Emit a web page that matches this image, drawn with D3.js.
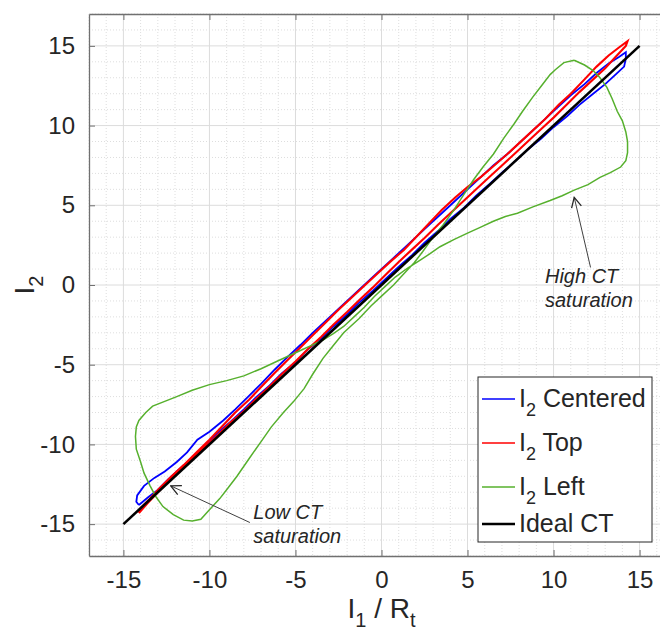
<!DOCTYPE html>
<meta charset="utf-8">
<script src="https://d3js.org/d3.v7.min.js"></script>
<style>
  body { margin: 0; background: #fff; }
  text { font-family: "Liberation Sans", Arial, sans-serif; fill: #262626; }
</style>
<div id="my_dataviz"></div>
<script>

  // values, [I1/Rt, I2]
  var centeredData = [
    [-14.1,-13.8],[-13.6,-13.35],[-13.0,-12.85],[-12.4,-12.2],[-11.8,-11.6],[-11.0,-10.85],[-10.2,-10.0],[-9.5,-9.25],
    [-8.8,-8.6],[-8.0,-7.8],[-7.3,-7.05],[-6.5,-6.3],[-5.8,-5.55],[-5.0,-4.85],[-4.3,-4.05],[-3.5,-3.35],[-2.8,-2.6],
    [-2.0,-1.85],[-1.3,-1.1],[-0.5,-0.35],[0.3,0.45],[1.0,1.15],[1.8,1.9],[2.5,2.65],[3.3,3.4],[4.0,4.15],[4.8,4.85],
    [5.5,5.6],[6.3,6.35],[7.0,7.05],[7.8,7.8],[8.5,8.5],[9.3,9.2],[10.0,9.9],[10.8,10.6],[11.5,11.3],[12.3,12.0],
    [13.0,12.6],[13.6,13.2],[14.1,13.7],[14.2,14.2],
    [14.2,14.6],[13.8,14.3],[13.2,13.9],[12.5,13.3],[11.8,12.6],[11.0,11.9],[10.3,11.2],[9.5,10.4],[8.8,9.7],[8.0,8.9],
    [7.3,8.2],[6.5,7.5],[5.8,6.8],[5.0,6.0],[4.3,5.3],[3.5,4.5],[2.8,3.8],[2.0,3.0],[1.3,2.3],[0.5,1.5],[-0.2,0.8],
    [-1.0,0.0],[-1.7,-0.7],[-2.5,-1.5],[-3.2,-2.2],[-4.0,-3.0],[-4.7,-3.75],[-5.5,-4.55],[-6.2,-5.3],[-7.0,-6.2],
    [-7.7,-6.95],[-8.5,-7.8],[-9.2,-8.5],[-10.0,-9.2],[-10.7,-9.7],[-11.3,-10.5],[-11.9,-11.1],[-12.6,-11.7],
    [-13.2,-12.1],[-13.8,-12.6],[-14.2,-13.2],[-14.25,-13.6],[-14.1,-13.8]
  ];

  var topData = [
    [-14.1,-14.3],[-13.6,-13.7],[-13.0,-13.0],[-12.4,-12.35],[-11.8,-11.7],[-11.0,-10.95],[-10.3,-10.2],[-9.5,-9.4],
    [-8.8,-8.65],[-8.0,-7.9],[-7.3,-7.15],[-6.5,-6.35],[-5.8,-5.6],[-5.0,-4.8],[-4.3,-4.05],[-3.5,-3.25],[-2.8,-2.5],
    [-2.0,-1.7],[-1.3,-0.95],[-0.5,-0.15],[0.3,0.7],[1.0,1.45],[1.8,2.25],[2.5,2.95],[3.3,3.8],[4.0,4.5],[4.8,5.3],
    [5.5,6.0],[6.3,6.8],[7.0,7.5],[7.8,8.3],[8.5,9.0],[9.3,9.8],[10.0,10.5],[10.8,11.35],[11.5,12.1],[12.3,12.9],
    [13.0,13.6],[13.6,14.3],[14.2,15.0],
    [14.3,15.3],[13.8,14.9],[13.2,14.4],[12.5,13.7],[11.8,12.9],[11.0,12.0],[10.3,11.3],[9.5,10.4],[8.8,9.7],[8.0,8.9],
    [7.3,8.2],[6.5,7.45],[5.8,6.8],[5.0,6.15],[4.3,5.5],[3.5,4.7],[2.8,3.9],[2.0,3.0],[1.3,2.2],[0.5,1.45],[-0.2,0.75],
    [-1.0,-0.05],[-1.7,-0.75],[-2.5,-1.55],[-3.2,-2.3],[-4.0,-3.15],[-4.7,-3.9],[-5.5,-4.75],[-6.2,-5.5],[-7.0,-6.4],
    [-7.7,-7.2],[-8.5,-8.0],[-9.2,-8.8],[-10.0,-9.7],[-10.7,-10.45],[-11.5,-11.3],[-12.2,-12.0],[-12.9,-12.75],
    [-13.5,-13.45],[-14.0,-14.0],[-14.1,-14.3]
  ];

  var leftData = [
    [11.2,14.1],[10.6,13.95],[10.1,13.5],[9.8,13.2],[9.3,12.5],[8.8,11.8],[8.2,10.9],[7.7,10.1],[7.1,9.2],[6.5,8.2],
    [5.9,7.4],[5.35,6.6],[4.8,5.7],[4.2,4.7],[3.6,3.8],[3.0,3.0],[2.4,2.1],[1.9,1.4],[1.3,0.7],[0.7,0.0],[0.0,-0.7],
    [-0.6,-1.3],[-1.3,-2.1],[-2.2,-3.0],[-2.8,-3.8],[-3.4,-4.6],[-4.0,-5.6],[-4.5,-6.5],[-5.1,-7.3],[-5.7,-8.0],
    [-6.4,-8.9],[-7.05,-9.9],[-7.7,-10.9],[-8.4,-12.0],[-8.9,-12.7],[-9.4,-13.4],[-10.0,-14.1],[-10.5,-14.7],
    [-11.0,-14.8],[-11.5,-14.75],[-12.1,-14.4],[-12.7,-13.9],[-13.1,-13.3],[-13.45,-12.6],[-13.8,-11.8],[-14.0,-11.1],
    [-14.25,-10.3],[-14.3,-9.5],[-14.25,-8.9],[-14.1,-8.5],[-13.7,-8.0],[-13.3,-7.6],[-12.6,-7.3],[-11.9,-7.0],
    [-11.0,-6.6],[-10.0,-6.25],[-9.0,-6.0],[-8.0,-5.7],[-7.0,-5.25],[-6.1,-4.8],[-4.9,-4.2],[-4.1,-3.8],[-3.4,-3.45],
    [-2.8,-3.05],[-2.2,-2.6],[-1.6,-2.0],[-1.0,-1.4],[-0.4,-0.7],[0.2,-0.1],[0.8,0.5],[1.5,1.05],[2.25,1.56],
    [2.8,1.95],[3.4,2.4],[4.2,2.85],[5.0,3.25],[5.8,3.65],[6.5,4.0],[7.2,4.3],[7.9,4.5],[8.8,4.9],[9.8,5.3],
    [10.5,5.6],[11.2,5.95],[12.0,6.3],[12.7,6.75],[13.3,7.05],[13.9,7.4],[14.2,7.8],[14.3,8.3],[14.3,9.0],[14.2,9.6],
    [14.0,10.3],[13.7,10.9],[13.4,11.7],[13.1,12.4],[12.7,13.0],[12.3,13.45],[11.8,13.8],[11.2,14.1]
  ];

  var idealData = [[-15,-15],[15,15]];

  var tickValues = [-15, -10, -5, 0, 5, 10, 15];
  var legendNames = ["Centered", "Top", "Left", "Ideal CT"];
  var legendColors = ["#0000ff", "#ff0000", "#56b02d", "#000000"];

  // annotation anchors in data units
  var highArrow = {from: [12.15, 1.1], to: [11.2, 5.5], text: [9.5, 0.12]};
  var lowArrow = {from: [-7.65, -14.9], to: [-12.25, -12.6], text: [-7.45, -14.7]};

  // set the dimensions and margins of the graph
  var margin = {top: 14, left: 89},
      width = 585,
      height = 542;

  var svg = d3.select("#my_dataviz")
    .append("svg")
      .attr("width", 660)
      .attr("height", 639)
    .append("g")
      .attr("transform", "translate(" + margin.left + "," + margin.top + ")");

  var x = d3.scaleLinear().domain([-17, 17]).range([0, width]);
  var y = d3.scaleLinear().domain([-17, 17]).range([height, 0]);

  // minor grid (dotted)
  var minor = d3.range(-17, 18).filter(function(v) { return v % 5 != 0; });
  svg.append("g").selectAll("line.mx")
    .data(minor).enter().append("line")
      .attr("x1", function(d) { return x(d); }).attr("x2", function(d) { return x(d); })
      .attr("y1", 0).attr("y2", height)
      .style("stroke", "#dedede").style("stroke-dasharray", "1,2");
  svg.append("g").selectAll("line.my")
    .data(minor).enter().append("line")
      .attr("y1", function(d) { return y(d); }).attr("y2", function(d) { return y(d); })
      .attr("x1", 0).attr("x2", width)
      .style("stroke", "#dedede").style("stroke-dasharray", "1,2");

  // major grid
  svg.append("g").selectAll("line")
    .data(tickValues).enter().append("line")
      .attr("x1", function(d) { return x(d); }).attr("x2", function(d) { return x(d); })
      .attr("y1", 0).attr("y2", height)
      .style("stroke", "#dcdcdc");
  svg.append("g").selectAll("line")
    .data(tickValues).enter().append("line")
      .attr("y1", function(d) { return y(d); }).attr("y2", function(d) { return y(d); })
      .attr("x1", 0).attr("x2", width)
      .style("stroke", "#dcdcdc");

  // axes (plain hyphen for negatives, like the original)
  var fmt = function(d) { return String(d); };
  var xAxis = svg.append("g")
      .attr("transform", "translate(0," + height + ")")
      .call(d3.axisBottom(x).tickValues(tickValues).tickFormat(fmt).tickSizeInner(-6).tickSizeOuter(0).tickPadding(15));
  var xTop = svg.append("g")
      .call(d3.axisTop(x).tickValues(tickValues).tickSizeInner(-6).tickSizeOuter(0).tickFormat(""));
  var yAxis = svg.append("g")
      .call(d3.axisLeft(y).tickValues(tickValues).tickFormat(fmt).tickSizeInner(-6).tickSizeOuter(0).tickPadding(14));
  var yRight = svg.append("g")
      .attr("transform", "translate(" + width + ",0)")
      .call(d3.axisRight(y).tickValues(tickValues).tickSizeInner(-6).tickSizeOuter(0).tickFormat(""));

  [xAxis, xTop, yAxis, yRight].forEach(function(g) {
    g.select(".domain").style("stroke", "#707070").style("stroke-width", 1.3);
    g.selectAll(".tick line").style("stroke", "#707070");
    g.selectAll(".tick text").style("font-size", "24px").style("fill", "#262626")
      .style("font-family", "'Liberation Sans', Arial, sans-serif");
  });

  // series
  var line = d3.line()
    .x(function(d) { return x(d[0]); })
    .y(function(d) { return y(d[1]); });

  svg.append("path").datum(centeredData).attr("d", line)
    .style("fill", "none").style("stroke", legendColors[0]).style("stroke-width", 1.8);
  svg.append("path").datum(topData).attr("d", line)
    .style("fill", "none").style("stroke", legendColors[1]).style("stroke-width", 2.1);
  svg.append("path").datum(leftData).attr("d", line)
    .style("fill", "none").style("stroke", legendColors[2]).style("stroke-width", 1.5);
  svg.append("path").datum(idealData).attr("d", line)
    .style("fill", "none").style("stroke", legendColors[3]).style("stroke-width", 2.6);

  // annotations
  var defs = svg.append("defs");
  defs.append("marker")
      .attr("id", "arr")
      .attr("viewBox", "0 0 12 12")
      .attr("refX", 11).attr("refY", 6)
      .attr("markerWidth", 12).attr("markerHeight", 12)
      .attr("markerUnits", "userSpaceOnUse")
      .attr("orient", "auto")
    .append("path")
      .attr("d", "M1,1 L11,6 L1,11")
      .style("fill", "none").style("stroke", "#262626").style("stroke-width", 1.3);

  function annotate(a, lines) {
    svg.append("line")
      .attr("x1", x(a.from[0])).attr("y1", y(a.from[1]))
      .attr("x2", x(a.to[0])).attr("y2", y(a.to[1]))
      .style("stroke", "#404040").style("stroke-width", 1)
      .attr("marker-end", "url(#arr)");
    var t = svg.append("text")
      .attr("x", x(a.text[0])).attr("y", y(a.text[1]))
      .style("font-size", "20px").style("font-style", "italic");
    lines.forEach(function(s, i) {
      t.append("tspan").attr("x", x(a.text[0])).attr("dy", i == 0 ? 0 : 24).text(s);
    });
  }
  annotate(highArrow, ["High CT", "saturation"]);
  annotate(lowArrow, ["Low CT", "saturation"]);

  // legend
  var lg = svg.append("g").attr("transform", "translate(" + (478 - margin.left) + "," + (377 - margin.top) + ")");
  lg.append("rect").attr("width", 174).attr("height", 165)
    .style("fill", "#fff").style("stroke", "#262626").style("stroke-width", 1);
  var rowY = [22, 66, 110, 147];
  legendNames.forEach(function(name, i) {
    lg.append("line").attr("x1", 4).attr("x2", 37).attr("y1", rowY[i]).attr("y2", rowY[i])
      .style("stroke", legendColors[i]).style("stroke-width", i == 3 ? 2.6 : 1.4);
    var t = lg.append("text").attr("x", 41).attr("y", rowY[i] + 8).style("font-size", "25px");
    if (i < 3) {
      t.append("tspan").text("I");
      t.append("tspan").attr("dy", 9).style("font-size", "18px").text("2");
      t.append("tspan").attr("dy", -9).text(" " + name);
    } else {
      t.text(name);
    }
  });

  // axis labels
  var xl = svg.append("text")
    .attr("x", x(0)).attr("y", 604)
    .attr("text-anchor", "middle").style("font-size", "28px");
  xl.append("tspan").text("I");
  xl.append("tspan").attr("dy", 9).style("font-size", "20px").text("1");
  xl.append("tspan").attr("dy", -9).text(" / R");
  xl.append("tspan").attr("dy", 9).style("font-size", "20px").text("t");

  var yl = svg.append("text")
    .attr("transform", "translate(" + (34 - margin.left) + "," + y(0) + ") rotate(-90)")
    .attr("text-anchor", "middle").style("font-size", "28px");
  yl.append("tspan").text("I");
  yl.append("tspan").attr("dy", 9).style("font-size", "20px").text("2");

</script>
